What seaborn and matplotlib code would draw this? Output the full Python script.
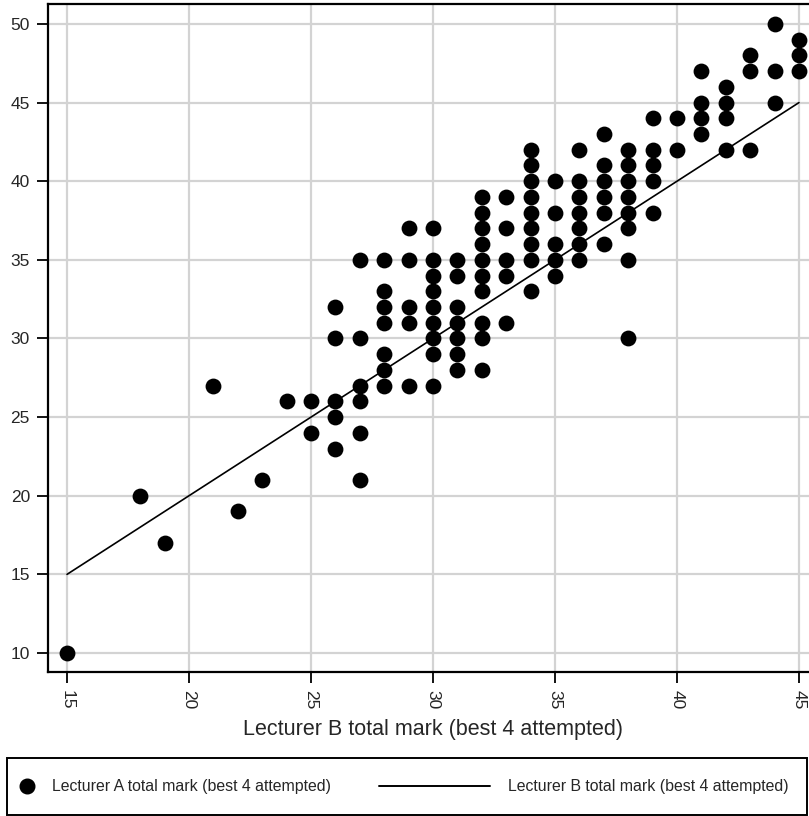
import matplotlib
matplotlib.use("Agg")
import matplotlib.pyplot as plt
from matplotlib.lines import Line2D
from matplotlib.patches import Rectangle
import pandas as pd
import seaborn as sns

# Lecturer B marks (x) and Lecturer A marks (y), one entry per student
lecturer_b = (
    [15, 18, 19, 21, 22, 23, 24, 25, 25]
    + [26] * 5 + [27] * 6 + [28] * 7 + [29] * 5 + [30] * 9 + [31] * 7
    + [32] * 10 + [33] * 5 + [34] * 9 + [35] * 5 + [36] * 7 + [37] * 6
    + [38] * 8 + [39] * 5 + [40] * 2 + [41] * 4 + [42] * 4 + [43] * 3
    + [44] * 3 + [45] * 3
)
lecturer_a = [
    10, 20, 17, 27, 19, 21, 26, 26, 24,
    32, 30, 26, 25, 23,
    35, 30, 27, 26, 24, 21,
    35, 33, 32, 31, 29, 28, 27,
    37, 35, 32, 31, 27,
    37, 35, 34, 33, 32, 31, 30, 29, 27,
    35, 34, 32, 31, 30, 29, 28,
    39, 38, 37, 36, 35, 34, 33, 31, 30, 28,
    39, 37, 35, 34, 31,
    42, 41, 40, 39, 38, 37, 36, 35, 33,
    40, 38, 36, 35, 34,
    42, 40, 39, 38, 37, 36, 35,
    43, 41, 40, 39, 38, 36,
    42, 41, 40, 39, 38, 37, 35, 30,
    44, 42, 41, 40, 38,
    44, 42,
    47, 45, 44, 43,
    46, 45, 44, 42,
    48, 47, 42,
    50, 47, 45,
    49, 48, 47,
]

x_ticks = [15, 20, 25, 30, 35, 40, 45]
y_ticks = [10, 15, 20, 25, 30, 35, 40, 45, 50]
label_a = "Lecturer A total mark (best 4 attempted)"
label_b = "Lecturer B total mark (best 4 attempted)"

df = pd.DataFrame({"b": lecturer_b, "a": lecturer_a})

sns.set_style("whitegrid")
plt.rcParams["font.family"] = ["Liberation Sans", "DejaVu Sans"]

W, H = 809, 816
fig = plt.figure(figsize=(W / 100, H / 100), dpi=100)
ax = fig.add_axes([48 / W, (H - 672) / H, 770 / W, 668 / H])

sns.scatterplot(data=df, x="b", y="a", s=130, color="black", linewidth=0,
                ax=ax, zorder=3, legend=False)
sns.lineplot(data=df, x="b", y="b", color="black", linewidth=1.2,
             errorbar=None, ax=ax, zorder=4, legend=False)

ax.set_xlim(14.22, 45.78)
ax.set_ylim(8.79, 51.27)
ax.set_xticks(x_ticks)
ax.set_yticks(y_ticks)
ax.set_xticklabels([str(t) for t in x_ticks], rotation=270, fontsize=12.5)
ax.set_yticklabels([str(t) for t in y_ticks], fontsize=12.5)
ax.tick_params(axis="both", length=8, width=1.3, color="black", pad=5,
               direction="out", bottom=True, left=True)
ax.grid(True, color="#d3d3d3", linewidth=1.6)
for side in ["left", "bottom", "top", "right"]:
    ax.spines[side].set_color("black")
    ax.spines[side].set_linewidth(1.6)
ax.set_xlabel(label_b, fontsize=15.5, labelpad=7)
ax.set_ylabel("")

# legend: a framed box across the bottom, two entries
fig.patches.append(Rectangle((7 / W, 1 / H), 800 / W, 57 / H,
                             transform=fig.transFigure, fill=False,
                             edgecolor="black", linewidth=1.4))
leg_fs = 11.4
dot = Line2D([], [], marker="o", color="black", linestyle="none", markersize=10.5)
line = Line2D([], [], color="black", linewidth=1.4)
leg1 = fig.legend([dot], [label_a], loc="center left",
                  bbox_to_anchor=(19 / W, 29 / H), fontsize=leg_fs,
                  frameon=False, borderpad=0, borderaxespad=0,
                  handlelength=1.0, handletextpad=1.08)
leg2 = fig.legend([line], [label_b], loc="center left",
                  bbox_to_anchor=(379 / W, 29 / H), fontsize=leg_fs,
                  frameon=False, borderpad=0, borderaxespad=0,
                  handlelength=7.0, handletextpad=1.15)

fig.savefig("out.png", dpi=100)
